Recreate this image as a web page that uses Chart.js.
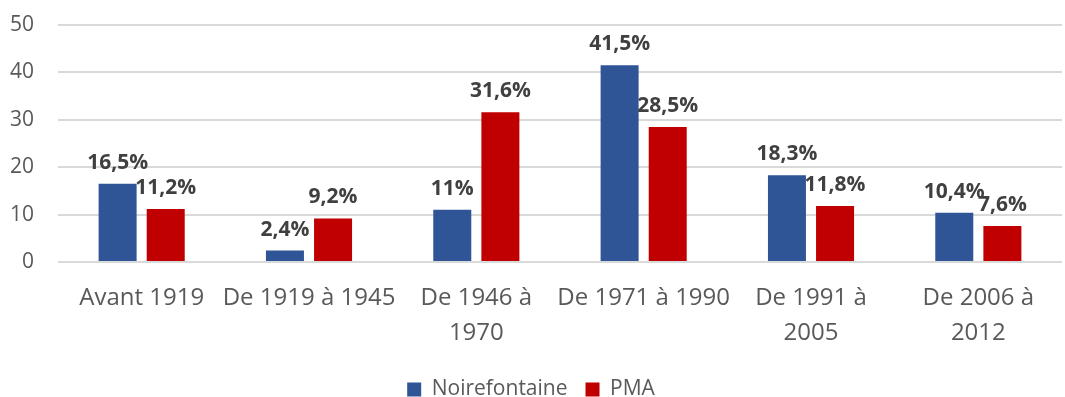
<!DOCTYPE html>
<html>
<head>
<meta charset="utf-8">
<script src="https://cdn.jsdelivr.net/npm/chart.js@4/dist/chart.umd.min.js"></script>
<style>
  html, body { margin: 0; padding: 0; background: #fff; }
  #wrap { width: 1065px; height: 397px; }
</style>
</head>
<body>
<div id="wrap"><canvas id="myChart" width="1065" height="397"></canvas></div>
<script>
const categories = [
  "Avant 1919",
  "De 1919 à 1945",
  ["De 1946 à", "1970"],
  "De 1971 à 1990",
  ["De 1991 à", "2005"],
  ["De 2006 à", "2012"]
];
const noirefontaine = [16.5, 2.4, 11, 41.5, 18.3, 10.4];
const pma = [11.2, 9.2, 31.6, 28.5, 11.8, 7.6];
const yTicks = [0, 10, 20, 30, 40, 50];

const FONT = "'Open Sans', 'DejaVu Sans', sans-serif";

// writes the value above each bar, french style (comma decimal)
const valueLabels = {
  id: 'valueLabels',
  afterDatasetsDraw(chart) {
    const ctx = chart.ctx;
    ctx.save();
    ctx.font = `bold 21px ${FONT}`;
    ctx.fillStyle = '#404040';
    ctx.textAlign = 'center';
    ctx.textBaseline = 'alphabetic';
    chart.data.datasets.forEach((ds, i) => {
      chart.getDatasetMeta(i).data.forEach((bar, j) => {
        const txt = String(ds.data[j]).replace('.', ',') + '%';
        ctx.fillText(txt, bar.x, bar.y - 15);
      });
    });
    ctx.restore();
  }
};

const ctx = document.getElementById('myChart').getContext('2d');
new Chart(ctx, {
  type: 'bar',
  data: {
    labels: categories,
    datasets: [
      { label: 'Noirefontaine', data: noirefontaine, backgroundColor: '#2F5597' },
      { label: 'PMA', data: pma, backgroundColor: '#C00000' }
    ]
  },
  options: {
    responsive: false,
    animation: false,
    // legend sits low, so the bottom padding goes negative
    layout: { padding: { top: 25, right: 3, left: 0, bottom: -13 } },
    datasets: { bar: { categoryPercentage: 0.575, barPercentage: 0.79 } },
    scales: {
      x: {
        grid: { display: false },
        border: { display: false },
        afterFit: s => { s.height = 99; },
        ticks: { color: '#595959', font: { family: FONT, size: 24, lineHeight: 1.45 }, maxRotation: 0, autoSkip: false, padding: 11 }
      },
      y: {
        min: 0,
        max: 50,
        afterBuildTicks: s => { s.ticks = yTicks.map(v => ({ value: v })); },
        afterFit: s => { s.width = 58; s.paddingTop = 0; },
        grid: { color: '#d9d9d9', lineWidth: 2, drawTicks: false },
        border: { display: false },
        ticks: { color: '#595959', font: { family: FONT, size: 21 }, padding: 24 }
      }
    },
    plugins: {
      legend: {
        position: 'bottom',
        labels: { color: '#595959', font: { family: FONT, size: 21 }, boxWidth: 14, boxHeight: 14, padding: 18 }
      },
      tooltip: { enabled: false }
    }
  },
  plugins: [valueLabels]
});
</script>
</body>
</html>
